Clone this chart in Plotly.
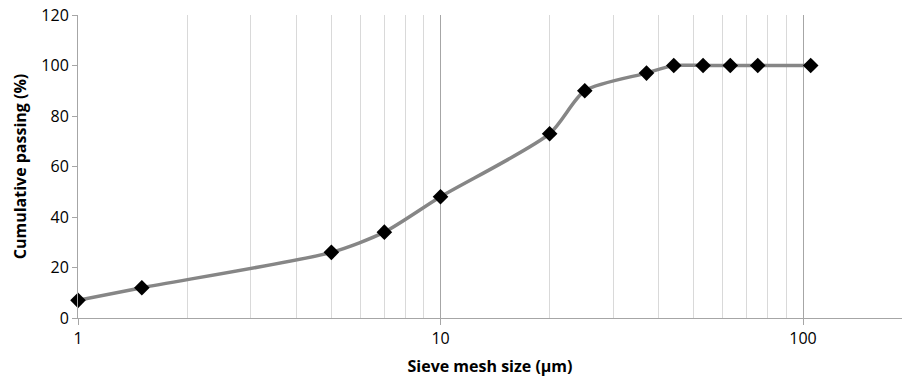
import plotly.graph_objects as go

sieve_size = [1, 1.5, 5, 7, 10, 20, 25, 37, 44, 53, 63, 75, 105]
cum_passing = [7, 12, 26, 34, 48, 73, 90, 97, 100, 100, 100, 100, 100]
major_ticks = [1, 10, 100]
minor_ticks = [2, 3, 4, 5, 6, 7, 8, 9, 20, 30, 40, 50, 60, 70, 80, 90]

fig = go.Figure()
fig.add_trace(go.Scatter(
    x=sieve_size, y=cum_passing, mode="lines+markers",
    line=dict(color="#868686", width=3.5, shape="spline", smoothing=0.7),
    marker=dict(symbol="diamond", color="black", size=12),
    cliponaxis=False,
    showlegend=False,
))

font_family = "'Open Sans', Lato, sans-serif"
fig.update_layout(
    width=902, height=382,
    margin=dict(l=78, r=0, t=15, b=64),
    paper_bgcolor="white", plot_bgcolor="white",
    font=dict(family=font_family, size=16, color="black"),
    xaxis=dict(
        type="log", range=[0, 2.273],
        tickmode="array", tickvals=major_ticks, ticktext=[str(v) for v in major_ticks],
        showgrid=True, gridcolor="#a6a6a6", gridwidth=1,
        showline=True, linecolor="#a6a6a6", linewidth=1,
        ticks="outside", ticklen=6, tickcolor="#a6a6a6",
        zeroline=False,
        minor=dict(tickmode="array", tickvals=minor_ticks, showgrid=True,
                   gridcolor="#d9d9d9", gridwidth=1, ticks=""),
        title=dict(text="<b>Sieve mesh size (µm)</b>", font=dict(size=16), standoff=12),
        tickfont=dict(size=16),
    ),
    yaxis=dict(
        range=[0, 120], tickmode="array", tickvals=[0, 20, 40, 60, 80, 100, 120],
        showgrid=False, showline=True, linecolor="#a6a6a6", linewidth=1,
        ticks="outside", ticklen=5, tickcolor="#a6a6a6",
        zeroline=False,
        title=dict(text="<b>Cumulative passing (%)</b>", font=dict(size=16), standoff=10),
        tickfont=dict(size=16),
    ),
)

fig.write_html("out.html")
